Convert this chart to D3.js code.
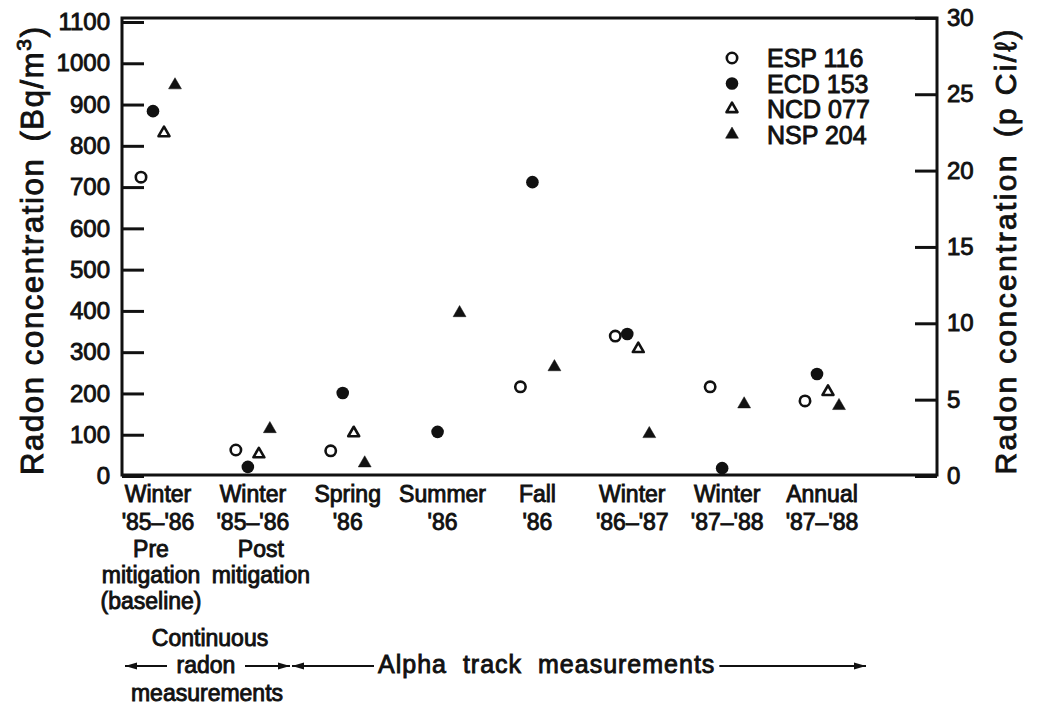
<!DOCTYPE html>
<html>
<head>
<meta charset="utf-8">
<script src="https://cdn.jsdelivr.net/npm/d3@7"></script>
<style>
  body { margin: 0; background: #fff; }
  svg text { font-family: "Liberation Sans", Arial, Helvetica, sans-serif; fill: #111; stroke: #111; stroke-width: 0.9px; }
</style>
</head>
<body>
<svg id="chart" width="1037" height="710"></svg>
<script>
// ---------------- data ----------------
const categoryLabels = [
  ["Winter", "'85–'86"],
  ["Winter", "'85–'86"],
  ["Spring", "'86"],
  ["Summer", "'86"],
  ["Fall", "'86"],
  ["Winter", "'86–'87"],
  ["Winter", "'87–'88"],
  ["Annual", "'87–'88"]
];
const categoryNotes = [
  ["Pre", "mitigation", "(baseline)"],
  ["Post", "mitigation"],
  [], [], [], [], [], []
];
const seriesNames = ["ESP 116", "ECD 153", "NCD 077", "NSP 204"];
// Radon concentration, Bq/m^3 (null = no measurement)
const esp116 = [724, 63, 61, null, 216, 339, 216, 182];
const ecd153 = [884, 22, 201, 107, 712, 344, 19, 247];
const ncd077 = [831, 53, 104, null, null, 308, null, 204];
const nsp204 = [947, 114, 31, 395, 264, 102, 174, 170];
const leftTicks = [0, 100, 200, 300, 400, 500, 600, 700, 800, 900, 1000, 1100];
const rightTicks = [0, 5, 10, 15, 20, 25, 30];
const bqPerPCiL = 37;

// ---------------- layout ----------------
const frame = { left: 122, right: 937, top: 18, bottom: 475 };
const svg = d3.select("#chart");
const ink = "#111";

const y = d3.scaleLinear().domain([0, 1100]).range([476, 22]);
const yR = d3.scaleLinear().domain([0, 30]).range([y(0), y(30 * bqPerPCiL)]);
const x = d3.scalePoint().domain(d3.range(categoryLabels.length)).range([158, 822]);

// frame
svg.append("rect")
  .attr("x", frame.left).attr("y", frame.top)
  .attr("width", frame.right - frame.left).attr("height", frame.bottom - frame.top)
  .attr("fill", "none").attr("stroke", ink).attr("stroke-width", 3);

function styleAxis(g) {
  g.select(".domain").remove();
  g.attr("font-size", null).attr("font-family", null);
  g.selectAll(".tick line").attr("stroke", ink).attr("stroke-width", 3);
  g.selectAll(".tick text").attr("font-size", 24).attr("fill", ink);
}

svg.append("g")
  .attr("transform", `translate(${frame.left},0)`)
  .call(d3.axisLeft(y).tickValues(leftTicks).tickSize(-22).tickSizeOuter(0).tickPadding(12).tickFormat(d3.format("d")))
  .call(styleAxis);

svg.append("g")
  .attr("transform", `translate(${frame.right},0)`)
  .call(d3.axisRight(yR).tickValues(rightTicks).tickSize(-22).tickSizeOuter(0).tickPadding(10).tickFormat(d3.format("d")))
  .call(styleAxis);

// axis titles
const lt = svg.append("text")
  .attr("transform", `translate(43,251) rotate(-90)`)
  .attr("text-anchor", "middle").attr("font-size", 31)
  .attr("textLength", 448).attr("lengthAdjust", "spacing");
lt.append("tspan").text("Radon concentration");
lt.append("tspan").attr("dx", 16).text("(Bq/m");
lt.append("tspan").attr("font-size", 21).attr("dy", -12).text("3");
lt.append("tspan").attr("dy", 12).text(")");

const rt = svg.append("text")
  .attr("transform", `translate(1016,252) rotate(-90)`)
  .attr("text-anchor", "middle").attr("font-size", 30)
  .attr("textLength", 445).attr("lengthAdjust", "spacing");
rt.append("tspan").text("Radon concentration");
rt.append("tspan").attr("dx", 16).text("(p Ci/ℓ)");

// x category labels
const lineBase = [502, 530];
const noteBase = [557, 583, 609];
const noteShift = [-7, 8];
categoryLabels.forEach((lines, i) => {
  lines.forEach((s, j) => {
    svg.append("text").attr("x", x(i)).attr("y", lineBase[j])
      .attr("text-anchor", "middle").attr("font-size", 23).text(s);
  });
  categoryNotes[i].forEach((s, j) => {
    svg.append("text").attr("x", x(i) + (noteShift[i] || 0)).attr("y", noteBase[j])
      .attr("text-anchor", "middle").attr("font-size", 23).text(s);
  });
});

// markers
const series = [
  { name: seriesNames[0], values: esp116, shape: "circle", filled: false, dx: -17 },
  { name: seriesNames[1], values: ecd153, shape: "circle", filled: true, dx: -5 },
  { name: seriesNames[2], values: ncd077, shape: "triangle", filled: false, dx: 6 },
  { name: seriesNames[3], values: nsp204, shape: "triangle", filled: true, dx: 17 }
];

function drawMarker(g, s, cx, cy) {
  if (s.shape === "circle") {
    g.append("circle").attr("cx", cx).attr("cy", cy)
      .attr("r", s.filled ? 6.3 : 5.2)
      .attr("fill", s.filled ? ink : "#fff")
      .attr("stroke", ink).attr("stroke-width", s.filled ? 0 : 2.6);
  } else {
    g.append("path")
      .attr("d", d3.symbol(d3.symbolTriangle, s.filled ? 72 : 52)())
      .attr("transform", `translate(${cx},${cy})`)
      .attr("fill", s.filled ? ink : "#fff")
      .attr("stroke", ink).attr("stroke-width", s.filled ? 0.5 : 2.6)
      .attr("stroke-linejoin", "round");
  }
}

const marks = svg.append("g");
series.forEach(s => {
  s.values.forEach((v, i) => {
    if (v == null) return;
    drawMarker(marks, s, x(i) + s.dx, y(v));
  });
});

// legend
const legend = svg.append("g");
series.forEach((s, k) => {
  const cy = 58 + k * 25.5;
  drawMarker(legend, s, 732, cy);
  legend.append("text").attr("x", 767).attr("y", cy).attr("dy", "0.36em")
    .attr("font-size", 25).text(s.name);
});

// bottom annotation (measurement methods)
const defs = svg.append("defs");
["start", "end"].forEach(kind => {
  defs.append("marker").attr("id", "arrow-" + kind)
    .attr("viewBox", "0 0 12 10").attr("refX", kind === "end" ? 12 : 0).attr("refY", 5)
    .attr("markerWidth", 12).attr("markerHeight", 10).attr("markerUnits", "userSpaceOnUse")
    .attr("orient", "auto")
    .append("path")
    .attr("d", kind === "end" ? "M0,1.5 L12,5 L0,8.5 Z" : "M12,1.5 L0,5 L12,8.5 Z")
    .attr("fill", ink);
});
const annY = 666;
function arrowLine(x1, x2, startHead, endHead) {
  const l = svg.append("line").attr("x1", x1).attr("x2", x2).attr("y1", annY).attr("y2", annY)
    .attr("stroke", ink).attr("stroke-width", 2);
  if (startHead) l.attr("marker-start", "url(#arrow-start)");
  if (endHead) l.attr("marker-end", "url(#arrow-end)");
}
svg.append("text").attr("x", 210).attr("y", 646).attr("text-anchor", "middle").attr("font-size", 23).text("Continuous");
svg.append("text").attr("x", 206).attr("y", 673).attr("text-anchor", "middle").attr("font-size", 23).text("radon");
svg.append("text").attr("x", 207).attr("y", 701).attr("text-anchor", "middle").attr("font-size", 23).text("measurements");
arrowLine(125, 167, true, false);
arrowLine(245, 290, false, true);
arrowLine(292, 374, true, false);
const alpha = svg.append("text").attr("x", 378).attr("y", 673).attr("font-size", 25)
  .attr("letter-spacing", 1).attr("word-spacing", 8).text("Alpha track measurements");
const alphaEnd = alpha.node().getBBox().x + alpha.node().getBBox().width;
arrowLine(Math.min(alphaEnd, 860) + 4, 866, false, true);
</script>
</body>
</html>
